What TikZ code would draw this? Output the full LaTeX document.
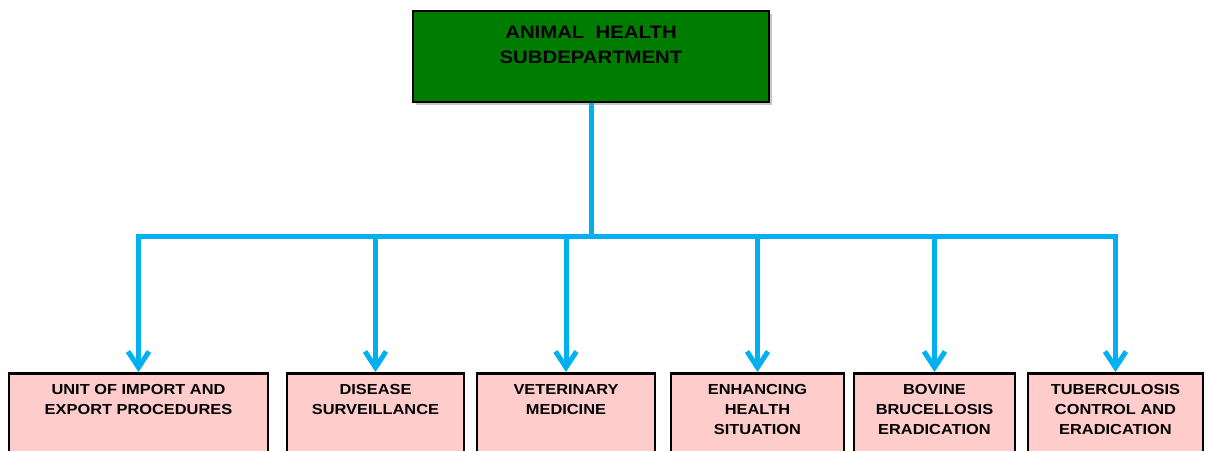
\documentclass[tikz,border=0pt]{standalone}
\usepackage{fontspec}
\setmainfont[FakeStretch=1.13]{Liberation Sans}
\usetikzlibrary{arrows.meta,shadows}
\definecolor{headgreen}{RGB}{0,125,0}
\definecolor{unitpink}{RGB}{255,204,204}
\definecolor{linkblue}{RGB}{0,176,240}
\tikzset{
  headbox/.style={draw=black, line width=2pt, fill=headgreen, rectangle,
    minimum width=356pt, minimum height=91pt, inner sep=0pt,
    drop shadow={shadow xshift=3pt, shadow yshift=-3pt, opacity=0.45}},
  headtext/.style={font=\bfseries\fontsize{18}{25}\selectfont, align=center, text=black},
  unitbox/.style={draw=black, line width=2.6pt, fill=unitpink, rectangle, inner sep=0pt},
  unittext/.style={font=\bfseries\fontsize{14.5}{20}\selectfont, align=center, text=black, anchor=north},
  link/.style={draw=linkblue, line width=5pt},
  drop/.style={link, -{Straight Barb[length=16pt, width=21pt, line width=5pt]}}
}
\begin{document}
\begin{tikzpicture}[x=1pt, y=-1pt]
  \useasboundingbox (0,0) rectangle (1206,450);
  \clip (0,0) rectangle (1206,450);
  \fill[white] (0,0) rectangle (1206,450);

  % head of the subdepartment
  \node[headbox] (head) at (591,56.5) {};
  \node[headtext, anchor=north] (headlbl) at (591,23) {ANIMAL\ \ HEALTH\\SUBDEPARTMENT};

  % units (boxes run on below the page edge)
  \foreach \name/\xa/\xb in {u1/9/268, u2/287/464, u3/477/655, u4/671/844, u5/854/1015, u6/1028/1203}{
    \node[unitbox, minimum width={\xb-\xa}, minimum height=110pt, anchor=north]
      (\name) at ({(\xa+\xb)/2},372) {};
  }
  \node[unittext] (t1) at (u1.north) [yshift=-9pt] {UNIT OF IMPORT AND\\EXPORT PROCEDURES};
  \node[unittext] (t2) at (u2.north) [yshift=-9pt] {DISEASE\\SURVEILLANCE};
  \node[unittext] (t3) at (u3.north) [yshift=-9pt] {VETERINARY\\MEDICINE};
  \node[unittext] (t4) at (u4.north) [yshift=-9pt] {ENHANCING\\HEALTH\\SITUATION};
  \node[unittext] (t5) at (u5.north) [yshift=-9pt] {BOVINE\\BRUCELLOSIS\\ERADICATION};
  \node[unittext] (t6) at (u6.north) [yshift=-9pt] {TUBERCULOSIS\\CONTROL AND\\ERADICATION};

  % connectors
  \coordinate (bar) at (591,236);
  \draw[link] (head.south) -- (bar);
  \draw[link, line cap=rect] (u1.north |- bar) -- (u6.north |- bar);
  \foreach \name in {u1,u2,u3,u4,u5,u6}{
    \draw[drop] (\name.north |- bar) -- (\name.north);
  }
\end{tikzpicture}
\end{document}
